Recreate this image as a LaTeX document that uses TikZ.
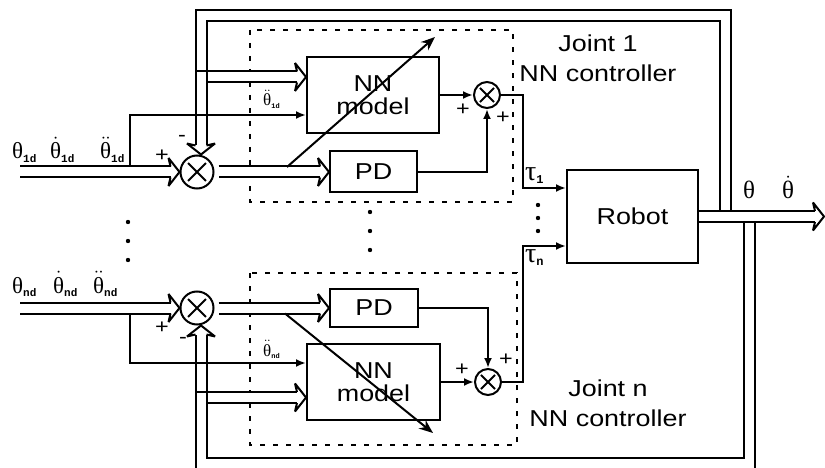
\documentclass[tikz,border=0pt]{standalone}
\usepackage{amsmath}
\usepackage{fontspec}
\newfontfamily\lblfont{Liberation Sans}[FakeStretch=1.17]
\newfontfamily\subfont{Liberation Mono}
\newfontfamily\grk{Liberation Serif}
\newcommand{\jsub}[2][11]{\mbox{\subfont\bfseries\fontsize{#1}{#1}\selectfont #2}}
\newcommand{\gth}{\mbox{\grk θ}}
\newcommand{\gtau}{\mbox{\grk τ}}
\usepackage{tikz}
\usetikzlibrary{arrows.meta, positioning, calc}

\tikzset{
  blk/.style={draw, line width=2pt, align=center, inner sep=0pt,
    font=\lblfont\fontsize{23}{23}\selectfont},
  sumnode/.style={circle, draw, line width=2pt, inner sep=0pt, minimum size=#1,
    path picture={\draw[line width=1.8pt] (path picture bounding box.center)
      +(-0.27*#1,-0.27*#1) -- +(0.27*#1,0.27*#1) +(-0.27*#1,0.27*#1) -- +(0.27*#1,-0.27*#1);}},
  hollow/.style={double, double distance=9pt, line width=2pt, shorten >=9pt},
  hhead/.pic={\draw[line width=2pt, miter limit=4] (-9,-5.5) -- (-11,-14) -- (0,0) -- (-11,14) -- (-9,5.5);},
  sig/.style={line width=2pt, -{Latex[length=10pt,width=8pt]}},
  adapt/.style={line width=2pt, -{Stealth[length=14pt,width=11pt]}},
  dashbox/.style={line width=1.2pt, dash pattern=on 5pt off 8pt},
  sgn/.style={inner sep=0pt, font=\lblfont\fontsize{20}{20}\selectfont},
  mth/.style={inner sep=0pt, anchor=base west, font=\fontsize{23}{24}\selectfont},
  jlbl/.style={align=center, font=\lblfont\fontsize{23}{30}\selectfont},
}

\begin{document}
\begin{tikzpicture}[x=1pt, y=-1pt]
  \useasboundingbox (0,0) rectangle (825,468);
  % controller frames
  \draw[dashbox] (250,30) rectangle (513,202);
  \draw[dashbox] (250,273) rectangle (517,445);

  \node[sumnode=33pt] (s1) at (197,172) {};
  \node[sumnode=33pt] (sn) at (197,308) {};
  \node[blk, minimum width=132pt, minimum height=76pt] (nn1) at (373,95) {NN\\model};
  \node[blk, minimum width=87pt, minimum height=41pt] (pd1) at (373.5,172) {PD};
  \node[blk, minimum width=88pt, minimum height=38pt] (pdn) at (374,308) {PD};
  \node[blk, minimum width=133pt, minimum height=76pt] (nnn) at (373.5,382) {NN\\model};
  \node[sumnode=26pt] (p1) at (487,95) {};
  \node[sumnode=26pt] (pn) at (488,382) {};
  \node[blk, minimum width=131pt, minimum height=93pt] (rob) at (632.5,216.5) {Robot};

  \coordinate (in1) at (20,172);
  \coordinate (inn) at (20,308);
  \coordinate (out) at (824,216.5);
  \coordinate (fbt) at (725,16);
  \coordinate (fbl) at (201,16);
  \coordinate (fbb) at (749,463);
  \coordinate (fbm) at (201,463);
  \coordinate (b1) at (207.5,77);
  \coordinate (bn) at (207.5,397.5);
  \coordinate (tap1) at (130,167);
  \coordinate (tapn) at (130,313.5);
  \coordinate (tau1) at (523,188);
  \coordinate (taun) at (523,246);

  % feedback of theta, theta dot
  \draw[hollow] (725,211) -- (fbt) -- (fbl) -- (fbl |- s1.north);
  \pic[rotate=-90] at (fbl |- s1.north) {hhead};
  \draw[hollow] (749,222) -- (fbb) -- (fbm) -- (fbm |- sn.south);
  \pic[rotate=90] at (fbm |- sn.south) {hhead};
  \draw[hollow] (b1) -- (b1 -| nn1.west);
  \pic at (b1 -| nn1.west) {hhead};
  \draw[line width=2pt] (195.5,71.5) -- (207.5,71.5);
  \draw[hollow] (bn) -- (bn -| nnn.west);
  \pic at (bn -| nnn.west) {hhead};
  \draw[line width=2pt] (195.5,392) -- (207.5,392);
  \draw[hollow] (rob.east) -- (out);
  \pic at (out) {hhead};

  \draw[hollow] (in1) -- (s1.west);
  \pic at (s1.west) {hhead};
  \draw[hollow] (inn) -- (sn.west);
  \pic at (sn.west) {hhead};
  \draw[hollow, shorten <=4pt] (s1.east) -- (pd1.west);
  \pic at (pd1.west) {hhead};
  \draw[hollow, shorten <=4pt] (sn.east) -- (pdn.west);
  \pic at (pdn.west) {hhead};

  \draw[sig] (tap1) |- ($(nn1.west)+(0,20)$);
  \draw[sig] (tapn) |- ($(nnn.west)+(0,-19)$);
  \draw[adapt] (287,167) -- (435,37);
  \draw[adapt] (285,313.5) -- (433,433);

  \draw[sig] (nn1.east) -- (p1.west);
  \draw[sig] (pd1.east) -| (p1.south);
  \draw[sig] (nnn.east) -- (pn.west);
  \draw[sig] (pdn.east) -| (pn.north);
  \draw[sig] (p1.east) -| (tau1) -- (tau1 -| rob.west);
  \draw[sig] (pn.east) -| (taun) -- (taun -| rob.west);

  % labels
  \node[mth] (q1) at (12,159) {$\gth_{\jsub{1d}}$};
  \node[mth] (dq1) at (50,159) {$\dot{\gth}_{\jsub{1d}}$};
  \node[mth] (ddq1) at (100,159) {$\ddot{\gth}_{\jsub{1d}}$};
  \node[mth] (qn) at (12,293) {$\gth_{\jsub{nd}}$};
  \node[mth] (dqn) at (53,293) {$\dot{\gth}_{\jsub{nd}}$};
  \node[mth] (ddqn) at (93,293) {$\ddot{\gth}_{\jsub{nd}}$};
  \node[mth, font=\fontsize{17}{18}\selectfont] (acc1) at (263,106) {$\ddot{\gth}_{\jsub[7]{1d}}$};
  \node[mth, font=\fontsize{17}{18}\selectfont] (accn) at (263,356) {$\ddot{\gth}_{\jsub[7]{nd}}$};
  \node[mth, font=\fontsize{28}{30}\selectfont] (t1) at (525,180) {$\gtau_{\jsub[12]{1}}$};
  \node[mth, font=\fontsize{28}{30}\selectfont] (tn) at (525,262) {$\gtau_{\jsub[12]{n}}$};
  \node[mth, font=\fontsize{25}{26}\selectfont] (qo) at (743,199) {$\gth$};
  \node[mth, font=\fontsize{25}{26}\selectfont] (dqo) at (782,199) {$\dot{\gth}$};

  \node[sgn] (pa) at (162,156) {+};
  \node[sgn] (ma) at (182,138) {-};
  \node[sgn] (pb) at (162,328) {+};
  \node[sgn] (mb) at (183,340) {-};
  \node[sgn] (pc) at (463,110) {+};
  \node[sgn] (pd) at (503,118) {+};
  \node[sgn] (pe) at (462,370) {+};
  \node[sgn] (pf) at (506,360) {+};

  \node[jlbl] (j1) at (598,58) {Joint 1\\NN controller};
  \node[jlbl] (jn) at (608,403) {Joint n\\NN controller};

  \foreach \y in {222,241,260} \fill (128,\y) circle (2.2pt);
  \foreach \y in {212,231,250} \fill (370,\y) circle (2.2pt);
  \foreach \y in {205,218,231} \fill (538,\y) circle (2.2pt);
\end{tikzpicture}
\end{document}
